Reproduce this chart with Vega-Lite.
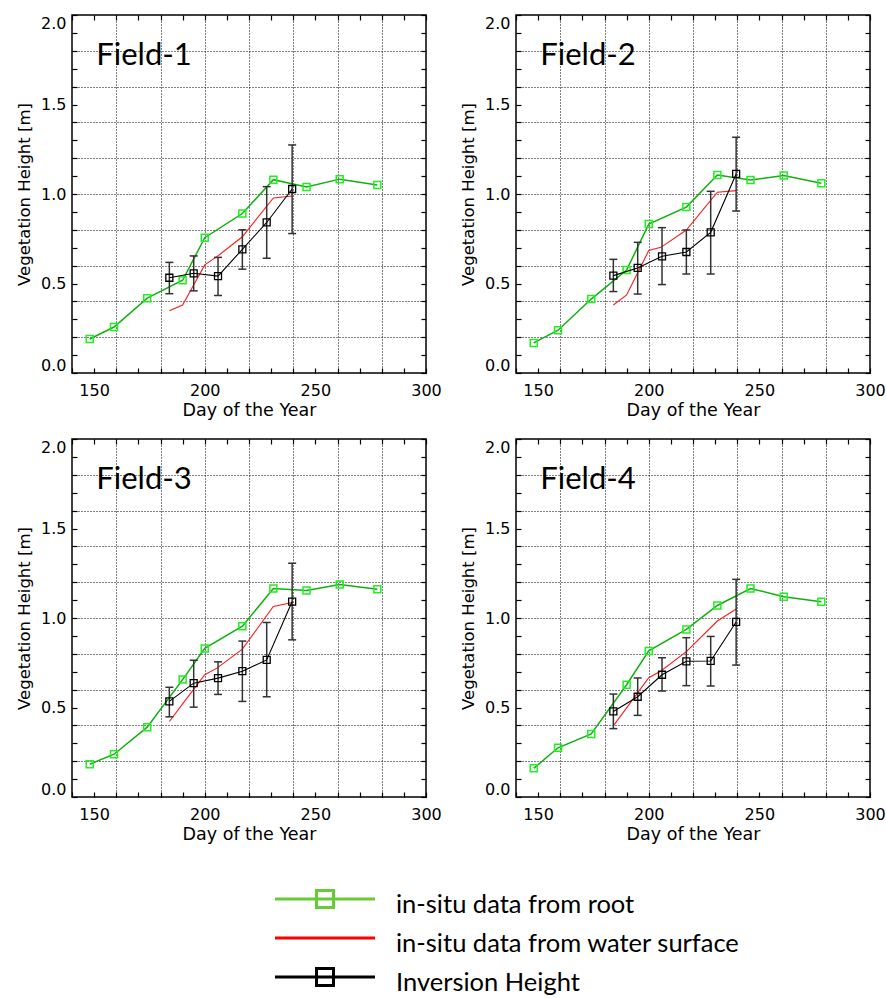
{
  "$schema": "https://vega.github.io/schema/vega-lite/v6.json",
  "padding": {"left": 15, "top": 13, "right": 5, "bottom": 0},
  "background": "white",
  "config": {
    "view": {"stroke": "#000", "strokeWidth": 1.5},
    "font": "DejaVu Sans",
    "header": {"labels": false, "title": null, "labelExpr": "''", "labelFontSize": 0, "labelPadding": 0},
    "headerFacet": {"labels": false, "title": null, "labelExpr": "''", "labelFontSize": 0, "labelPadding": 0},
    "axis": {
      "domain": false,
      "labelFont": "DejaVu Sans",
      "labelFontSize": 16,
      "labelColor": "#000",
      "titleFont": "DejaVu Sans",
      "titleFontSize": 16.5,
      "titleFontWeight": "normal",
      "titleColor": "#000",
      "tickColor": "#000",
      "tickWidth": 1.2,
      "gridColor": "#000",
      "gridDash": [1, 2],
      "gridWidth": 1
    }
  },
  "datasets": {
    "veg": [
      {"f": "Field-1", "s": "root", "d": 148, "h": 0.19},
      {"f": "Field-1", "s": "root", "d": 159, "h": 0.257},
      {"f": "Field-1", "s": "root", "d": 174, "h": 0.418},
      {"f": "Field-1", "s": "root", "d": 190, "h": 0.518},
      {"f": "Field-1", "s": "root", "d": 200, "h": 0.756},
      {"f": "Field-1", "s": "root", "d": 217, "h": 0.891},
      {"f": "Field-1", "s": "root", "d": 231, "h": 1.08},
      {"f": "Field-1", "s": "root", "d": 246, "h": 1.039},
      {"f": "Field-1", "s": "root", "d": 261, "h": 1.083},
      {"f": "Field-1", "s": "root", "d": 278, "h": 1.05},
      {"f": "Field-1", "s": "water", "d": 184, "h": 0.348},
      {"f": "Field-1", "s": "water", "d": 190, "h": 0.38},
      {"f": "Field-1", "s": "water", "d": 200, "h": 0.604},
      {"f": "Field-1", "s": "water", "d": 205.5, "h": 0.65},
      {"f": "Field-1", "s": "water", "d": 217, "h": 0.761},
      {"f": "Field-1", "s": "water", "d": 231, "h": 0.978},
      {"f": "Field-1", "s": "water", "d": 239.5, "h": 0.989},
      {"f": "Field-1", "s": "inv", "d": 184, "h": 0.532, "lo": 0.443, "hi": 0.618},
      {"f": "Field-1", "s": "inv", "d": 195, "h": 0.557, "lo": 0.459, "hi": 0.654},
      {"f": "Field-1", "s": "inv", "d": 206, "h": 0.541, "lo": 0.433, "hi": 0.646},
      {"f": "Field-1", "s": "inv", "d": 217, "h": 0.691, "lo": 0.58, "hi": 0.8},
      {"f": "Field-1", "s": "inv", "d": 228, "h": 0.841, "lo": 0.641, "hi": 1.041},
      {"f": "Field-1", "s": "inv", "d": 239.5, "h": 1.028, "lo": 0.779, "hi": 1.274},

      {"f": "Field-2", "s": "root", "d": 148, "h": 0.168},
      {"f": "Field-2", "s": "root", "d": 159, "h": 0.239},
      {"f": "Field-2", "s": "root", "d": 174, "h": 0.413},
      {"f": "Field-2", "s": "root", "d": 190, "h": 0.575},
      {"f": "Field-2", "s": "root", "d": 200, "h": 0.832},
      {"f": "Field-2", "s": "root", "d": 217, "h": 0.927},
      {"f": "Field-2", "s": "root", "d": 231, "h": 1.106},
      {"f": "Field-2", "s": "root", "d": 246, "h": 1.078},
      {"f": "Field-2", "s": "root", "d": 261, "h": 1.103},
      {"f": "Field-2", "s": "root", "d": 278, "h": 1.06},
      {"f": "Field-2", "s": "water", "d": 184, "h": 0.38},
      {"f": "Field-2", "s": "water", "d": 190, "h": 0.436},
      {"f": "Field-2", "s": "water", "d": 200, "h": 0.684},
      {"f": "Field-2", "s": "water", "d": 205.5, "h": 0.702},
      {"f": "Field-2", "s": "water", "d": 217, "h": 0.799},
      {"f": "Field-2", "s": "water", "d": 231, "h": 1.01},
      {"f": "Field-2", "s": "water", "d": 239.5, "h": 1.019},
      {"f": "Field-2", "s": "inv", "d": 184, "h": 0.544, "lo": 0.455, "hi": 0.635},
      {"f": "Field-2", "s": "inv", "d": 195, "h": 0.587, "lo": 0.441, "hi": 0.73},
      {"f": "Field-2", "s": "inv", "d": 206, "h": 0.652, "lo": 0.494, "hi": 0.812},
      {"f": "Field-2", "s": "inv", "d": 217, "h": 0.676, "lo": 0.553, "hi": 0.799},
      {"f": "Field-2", "s": "inv", "d": 228, "h": 0.786, "lo": 0.553, "hi": 1.015},
      {"f": "Field-2", "s": "inv", "d": 239.5, "h": 1.112, "lo": 0.905, "hi": 1.317},

      {"f": "Field-3", "s": "root", "d": 148, "h": 0.183},
      {"f": "Field-3", "s": "root", "d": 159, "h": 0.239},
      {"f": "Field-3", "s": "root", "d": 174, "h": 0.39},
      {"f": "Field-3", "s": "root", "d": 190, "h": 0.656},
      {"f": "Field-3", "s": "root", "d": 200, "h": 0.83},
      {"f": "Field-3", "s": "root", "d": 217, "h": 0.954},
      {"f": "Field-3", "s": "root", "d": 231, "h": 1.165},
      {"f": "Field-3", "s": "root", "d": 246, "h": 1.154},
      {"f": "Field-3", "s": "root", "d": 261, "h": 1.187},
      {"f": "Field-3", "s": "root", "d": 278, "h": 1.161},
      {"f": "Field-3", "s": "water", "d": 184, "h": 0.422},
      {"f": "Field-3", "s": "water", "d": 190, "h": 0.52},
      {"f": "Field-3", "s": "water", "d": 200, "h": 0.683},
      {"f": "Field-3", "s": "water", "d": 205.5, "h": 0.72},
      {"f": "Field-3", "s": "water", "d": 217, "h": 0.826},
      {"f": "Field-3", "s": "water", "d": 231, "h": 1.064},
      {"f": "Field-3", "s": "water", "d": 239.5, "h": 1.087},
      {"f": "Field-3", "s": "inv", "d": 184, "h": 0.534, "lo": 0.448, "hi": 0.613},
      {"f": "Field-3", "s": "inv", "d": 195, "h": 0.636, "lo": 0.502, "hi": 0.764},
      {"f": "Field-3", "s": "inv", "d": 206, "h": 0.664, "lo": 0.573, "hi": 0.755},
      {"f": "Field-3", "s": "inv", "d": 217, "h": 0.703, "lo": 0.534, "hi": 0.871},
      {"f": "Field-3", "s": "inv", "d": 228, "h": 0.766, "lo": 0.56, "hi": 0.975},
      {"f": "Field-3", "s": "inv", "d": 239.5, "h": 1.092, "lo": 0.878, "hi": 1.306},

      {"f": "Field-4", "s": "root", "d": 148, "h": 0.16},
      {"f": "Field-4", "s": "root", "d": 159, "h": 0.275},
      {"f": "Field-4", "s": "root", "d": 174, "h": 0.352},
      {"f": "Field-4", "s": "root", "d": 190, "h": 0.627},
      {"f": "Field-4", "s": "root", "d": 200, "h": 0.816},
      {"f": "Field-4", "s": "root", "d": 217, "h": 0.936},
      {"f": "Field-4", "s": "root", "d": 231, "h": 1.07},
      {"f": "Field-4", "s": "root", "d": 246, "h": 1.165},
      {"f": "Field-4", "s": "root", "d": 261, "h": 1.119},
      {"f": "Field-4", "s": "root", "d": 278, "h": 1.091},
      {"f": "Field-4", "s": "water", "d": 184, "h": 0.397},
      {"f": "Field-4", "s": "water", "d": 190, "h": 0.498},
      {"f": "Field-4", "s": "water", "d": 200, "h": 0.666},
      {"f": "Field-4", "s": "water", "d": 205.5, "h": 0.704},
      {"f": "Field-4", "s": "water", "d": 217, "h": 0.812},
      {"f": "Field-4", "s": "water", "d": 231, "h": 0.983},
      {"f": "Field-4", "s": "water", "d": 239.5, "h": 1.05},
      {"f": "Field-4", "s": "inv", "d": 184, "h": 0.478, "lo": 0.382, "hi": 0.575},
      {"f": "Field-4", "s": "inv", "d": 195, "h": 0.56, "lo": 0.456, "hi": 0.665},
      {"f": "Field-4", "s": "inv", "d": 206, "h": 0.683, "lo": 0.592, "hi": 0.778},
      {"f": "Field-4", "s": "inv", "d": 217, "h": 0.758, "lo": 0.622, "hi": 0.89},
      {"f": "Field-4", "s": "inv", "d": 228, "h": 0.76, "lo": 0.62, "hi": 0.897},
      {"f": "Field-4", "s": "inv", "d": 239.5, "h": 0.978, "lo": 0.737, "hi": 1.216}
    ],
    "legend": [
      {"s": "root", "label": "in-situ data from root"},
      {"s": "water", "label": "in-situ data from water surface"},
      {"s": "inv", "label": "Inversion Height"}
    ]
  },
  "vconcat": [
    {
      "data": {"name": "veg"},
      "facet": {"field": "f", "type": "nominal", "header": {"title": null, "labels": false, "labelExpr": "''", "labelFontSize": 0, "labelPadding": 0}},
      "columns": 2,
      "spacing": {"row": 66, "column": 90},
      "bounds": "flush",
      "resolve": {"axis": {"x": "independent", "y": "independent"}},
      "spec": {
        "width": 354,
        "height": 358,
        "resolve": {"axis": {"x": "independent", "y": "independent"}},
        "layer": [
          {
            "transform": [{"filter": "datum.s === 'root'"}],
            "mark": {"type": "line", "color": "#10b010", "strokeWidth": 1.5},
            "encoding": {
              "x": {
                "field": "d", "type": "quantitative",
                "scale": {"domain": [140, 300], "nice": false, "zero": false},
                "axis": {
                  "orient": "bottom",
                  "title": "Day of the Year",
                  "titleFontSize": 17.5,
                  "titlePadding": 3,
                  "values": [140,150,160,170,180,190,200,210,220,230,240,250,260,270,280,290,300],
                  "labelExpr": "datum.value % 50 === 0 && datum.value > 140 ? datum.label : ''",
                  "labelFlush": false,
                  "labelPadding": 14,
                  "tickSize": -5,
                  "grid": true,
                  "gridOpacity": {"condition": {"test": "datum.value % 20 === 0 && datum.value > 140 && datum.value < 300", "value": 1}, "value": 0}
                }
              },
              "y": {
                "field": "h", "type": "quantitative",
                "scale": {"domain": [0, 2], "nice": false, "zero": false},
                "axis": {
                  "orient": "left",
                  "title": "Vegetation Height [m]",
                  "titlePadding": 8,
                  "values": [0,0.1,0.2,0.3,0.4,0.5,0.6,0.7,0.8,0.9,1.0,1.1,1.2,1.3,1.4,1.5,1.6,1.7,1.8,1.9,2.0],
                  "format": ".1f",
                  "labelExpr": "round(datum.value * 10) % 5 === 0 ? datum.label : ''",
                  "labelFlush": true,
                  "labelPadding": 11,
                  "tickSize": -5,
                  "grid": true,
                  "gridOpacity": {"condition": {"test": "round(datum.value * 10) % 2 === 0 && datum.value > 0.05 && datum.value < 1.95", "value": 1}, "value": 0}
                }
              }
            }
          },
          {
            "transform": [{"filter": "datum.s === 'root'"}],
            "mark": {"type": "point", "shape": "square", "filled": false, "size": 49, "stroke": "#22ee22", "strokeWidth": 1.5, "opacity": 1},
            "encoding": {
              "x": {
                "field": "d", "type": "quantitative",
                "axis": {
                  "orient": "top", "title": null, "labels": false, "grid": false, "tickSize": -5,
                  "values": [140,150,160,170,180,190,200,210,220,230,240,250,260,270,280,290,300]
                }
              },
              "y": {
                "field": "h", "type": "quantitative",
                "axis": {
                  "orient": "right", "title": null, "labels": false, "grid": false, "tickSize": -5,
                  "values": [0,0.1,0.2,0.3,0.4,0.5,0.6,0.7,0.8,0.9,1.0,1.1,1.2,1.3,1.4,1.5,1.6,1.7,1.8,1.9,2.0]
                }
              }
            }
          },
          {
            "transform": [{"filter": "datum.s === 'water'"}],
            "mark": {"type": "line", "color": "#ff1a1a", "strokeWidth": 1.1},
            "encoding": {
              "x": {"field": "d", "type": "quantitative", "axis": null},
              "y": {"field": "h", "type": "quantitative", "axis": null}
            }
          },
          {
            "transform": [{"filter": "datum.s === 'inv'"}],
            "mark": {"type": "rule", "color": "#333", "strokeWidth": 1.5},
            "encoding": {
              "x": {"field": "d", "type": "quantitative", "axis": null},
              "y": {"field": "lo", "type": "quantitative", "axis": null},
              "y2": {"field": "hi"}
            }
          },
          {
            "transform": [{"filter": "datum.s === 'inv'"}, {"fold": ["lo", "hi"], "as": ["end", "v"]}],
            "mark": {"type": "point", "shape": "M-1,0H1", "size": 64, "stroke": "#333", "strokeWidth": 1.5, "filled": false, "opacity": 1},
            "encoding": {
              "x": {"field": "d", "type": "quantitative", "axis": null},
              "y": {"field": "v", "type": "quantitative", "axis": null}
            }
          },
          {
            "transform": [{"filter": "datum.s === 'inv'"}],
            "mark": {"type": "line", "color": "#000", "strokeWidth": 1.1},
            "encoding": {
              "x": {"field": "d", "type": "quantitative", "axis": null},
              "y": {"field": "h", "type": "quantitative", "axis": null}
            }
          },
          {
            "transform": [{"filter": "datum.s === 'inv'"}],
            "mark": {"type": "point", "shape": "square", "filled": false, "size": 49, "stroke": "#000", "strokeWidth": 1.3, "opacity": 1},
            "encoding": {
              "x": {"field": "d", "type": "quantitative", "axis": null},
              "y": {"field": "h", "type": "quantitative", "axis": null}
            }
          },
          {
            "transform": [{"filter": "datum.s === 'root' && datum.d === 148"}],
            "mark": {"type": "text", "font": "Lato", "fontSize": 31, "align": "left", "baseline": "alphabetic", "color": "#000"},
            "encoding": {
              "x": {"datum": 151, "type": "quantitative", "axis": null},
              "y": {"datum": 1.72, "type": "quantitative", "axis": null},
              "text": {"field": "f"}
            }
          }
        ]
      }
    },
    {
      "data": {"name": "legend"},
      "width": 730,
      "height": 78,
      "view": {"stroke": null},
      "layer": [
        {
          "mark": {"type": "rule", "strokeWidth": 3},
          "encoding": {
            "x": {"datum": 0, "type": "quantitative", "scale": {"domain": [-2.03, 5.27], "nice": false, "zero": false}, "axis": null},
            "x2": {"datum": 1},
            "y": {"field": "s", "type": "nominal", "sort": ["root", "water", "inv"], "scale": {"type": "point", "padding": 0}, "axis": null},
            "color": {"field": "s", "type": "nominal", "scale": {"domain": ["root", "water", "inv"], "range": ["#66cc33", "#ff0000", "#000000"]}, "legend": null}
          }
        },
        {
          "transform": [{"filter": "datum.s !== 'water'"}],
          "mark": {"type": "point", "shape": "square", "filled": false, "size": 289, "strokeWidth": 3, "opacity": 1},
          "encoding": {
            "x": {"datum": 0.5, "type": "quantitative"},
            "y": {"field": "s", "type": "nominal", "sort": ["root", "water", "inv"]},
            "color": {"field": "s", "type": "nominal", "legend": null}
          }
        },
        {
          "mark": {"type": "text", "font": "Lato", "fontSize": 25.5, "align": "left", "baseline": "alphabetic", "dy": 14, "color": "#000"},
          "encoding": {
            "x": {"datum": 1.21, "type": "quantitative"},
            "y": {"field": "s", "type": "nominal", "sort": ["root", "water", "inv"]},
            "text": {"field": "label"}
          }
        }
      ]
    }
  ],
  "spacing": 40
}
